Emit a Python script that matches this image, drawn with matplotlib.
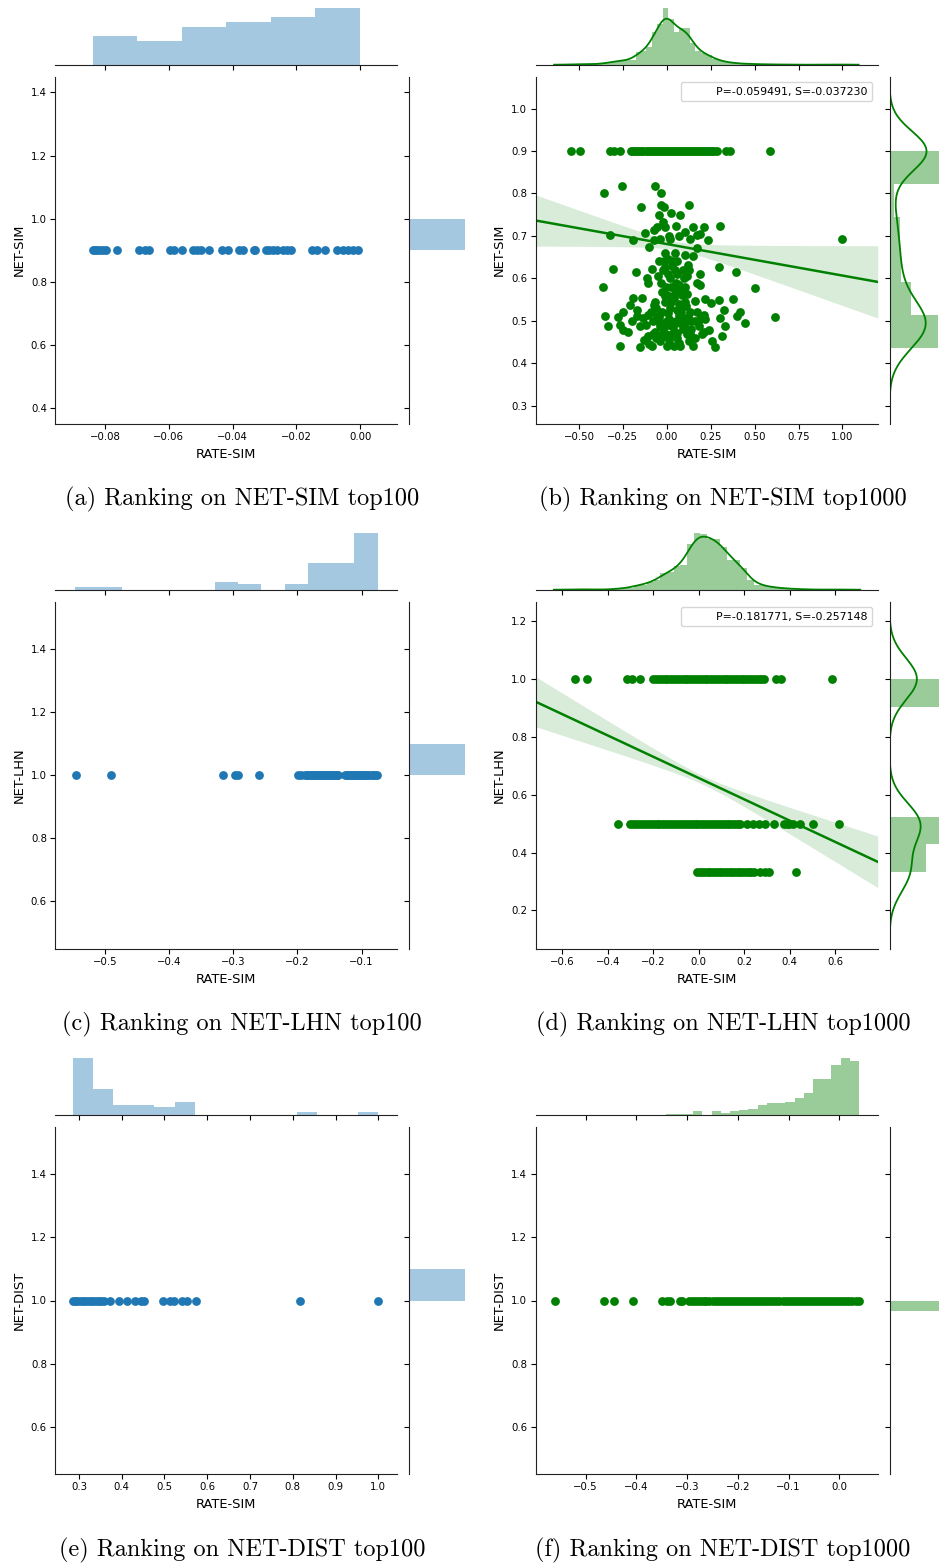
import numpy as np
import matplotlib.pyplot as plt
from matplotlib.lines import Line2D

BLUE = '#1f77b4'
GREEN = 'green'

# ---------------- data ----------------
# (a) NET-SIM top100 : all NET-SIM = 0.9
a_x = [-0.0839, -0.0831, -0.0824, -0.0816, -0.0807, -0.0797, -0.0764, -0.0695, -0.0675, -0.0661,
       -0.0596, -0.0584, -0.0559, -0.0525, -0.0513, -0.0500, -0.0473, -0.0433, -0.0414, -0.0379,
       -0.0367, -0.0333, -0.0329, -0.0296, -0.0285, -0.0273, -0.0262, -0.0241, -0.0231, -0.0218,
       -0.0152, -0.0135, -0.0111, -0.0074, -0.0053, -0.0038, -0.0022, -0.0006]
a_y = 0.9
a_xbins = (-0.0839, -0.0001)
a_xcounts = [12, 10, 16, 18, 20, 24]
a_ybins = (0.9, 1.0)
a_ycounts = [100]

# (b) NET-SIM top1000
b_row_x = [-0.548, -0.492, -0.323, -0.300, -0.266, -0.205, -0.192, -0.181, -0.168, -0.157,
           -0.146, -0.133, -0.121, -0.110, -0.098, -0.087, -0.075, -0.062, -0.051, -0.040,
           -0.028, -0.017, -0.005, 0.006, 0.018, 0.029, 0.041, 0.052, 0.064, 0.075,
           0.087, 0.098, 0.110, 0.121, 0.133, 0.144, 0.156, 0.167, 0.179, 0.190,
           0.202, 0.213, 0.225, 0.236, 0.248, 0.259, 0.271, 0.285, 0.338, 0.361, 0.586]
b_row_y = 0.9
b_cloud_x = [-0.357, -0.257, -0.067, -0.032, -0.148, -0.034, -0.015, 0.124, -0.042, 0.023,
             0.076, -0.023, -0.057, -0.076, -0.124, -0.010, 0.053, 0.101, 0.148, 0.209,
             0.300, 0.171, 0.190, 0.234, -0.323, -0.194, -0.099, -0.076, -0.038, 0.019,
             0.067, 0.133, 0.171, 0.101, 0.148, 0.004, -0.010, 0.029, 0.048, -0.086,
             0.120, 0.129, 0.295, 0.395, -0.304, -0.175, -0.365, -0.114, -0.105, -0.048,
             0.114, 0.190, 0.171, 0.190, 0.504, -0.004, 0.053, 0.105, 0.080, -0.029,
             -0.010, 0.038, 0.114, 0.219, 0.295, 0.376, -0.190, -0.143, -0.209, -0.251,
             -0.076, 0.076, 0.162, 0.253, 0.323, 0.414, -0.352, -0.281, -0.338, -0.171,
             -0.133, -0.057, 0.004, 0.067, 0.133, 0.209, 0.304, 0.399, -0.266, -0.219,
             -0.152, -0.080, -0.038, 0.038, 0.114, 0.181, 0.238, 0.333, 0.447, -0.247,
             -0.105, -0.019, 0.057, 0.133, 0.209, 0.314, -0.266, -0.152, -0.086, -0.038,
             0.010, 0.067, 0.124, 0.257, 0.276, 0.076, 0.000, 1.000, 0.614, -0.060,
             -0.030, 0.000, 0.020, 0.050, 0.080, 0.100, 0.120, -0.020, 0.030, 0.060,
             0.090, -0.050, -0.090, 0.140, 0.160, -0.120, -0.010, 0.040, 0.070, 0.110,
             -0.040, 0.010, 0.130, 0.170, -0.070, 0.000, 0.020, -0.020, 0.060, 0.030,
             -0.010, 0.090, -0.130, 0.190, 0.220, -0.170, -0.100, 0.150, 0.040, -0.200,
             -0.080, -0.060, -0.045, -0.025, -0.005, 0.015, 0.035, 0.055, 0.075, 0.095,
             0.115, 0.135, -0.110, -0.065, 0.025, 0.045, 0.085, 0.105, -0.035, 0.005,
             0.025, 0.070, 0.095, -0.015, 0.045, 0.010, 0.060, -0.045, 0.160, 0.200]
b_cloud_y = [0.801, 0.818, 0.818, 0.801, 0.768, 0.773, 0.769, 0.773, 0.750, 0.755,
             0.750, 0.732, 0.721, 0.715, 0.708, 0.721, 0.724, 0.709, 0.721, 0.721,
             0.724, 0.703, 0.705, 0.691, 0.703, 0.691, 0.673, 0.691, 0.693, 0.693,
             0.699, 0.693, 0.671, 0.656, 0.653, 0.645, 0.628, 0.630, 0.620, 0.622,
             0.632, 0.620, 0.626, 0.616, 0.622, 0.616, 0.581, 0.601, 0.589, 0.605,
             0.605, 0.611, 0.589, 0.585, 0.577, 0.581, 0.589, 0.581, 0.569, 0.569,
             0.558, 0.562, 0.564, 0.552, 0.550, 0.552, 0.554, 0.554, 0.538, 0.522,
             0.538, 0.538, 0.546, 0.542, 0.525, 0.522, 0.511, 0.509, 0.487, 0.511,
             0.507, 0.512, 0.518, 0.515, 0.522, 0.515, 0.507, 0.511, 0.491, 0.475,
             0.487, 0.499, 0.487, 0.495, 0.499, 0.487, 0.479, 0.487, 0.494, 0.479,
             0.464, 0.464, 0.471, 0.471, 0.475, 0.464, 0.442, 0.439, 0.440, 0.452,
             0.456, 0.448, 0.452, 0.452, 0.439, 0.440, 0.440, 0.692, 0.509, 0.530,
             0.520, 0.500, 0.530, 0.500, 0.520, 0.490, 0.510, 0.480, 0.470, 0.460,
             0.480, 0.500, 0.520, 0.480, 0.500, 0.490, 0.545, 0.555, 0.540, 0.535,
             0.465, 0.490, 0.455, 0.520, 0.475, 0.560, 0.600, 0.620, 0.610, 0.640,
             0.660, 0.620, 0.455, 0.505, 0.505, 0.525, 0.445, 0.440, 0.440, 0.500,
             0.470, 0.460, 0.510, 0.495, 0.470, 0.505, 0.485, 0.525, 0.495, 0.505,
             0.470, 0.500, 0.515, 0.545, 0.545, 0.575, 0.560, 0.545, 0.590, 0.610,
             0.580, 0.585, 0.600, 0.640, 0.660, 0.700, 0.640, 0.640, 0.460, 0.470]
b_xbins = (-0.55, 1.0)
b_xcounts = [2, 0, 2, 1, 1, 2, 4, 6, 8, 10,
             10, 12, 30, 32, 42, 76, 95, 134, 108, 78,
             86, 86, 50, 32, 28, 22, 14, 10, 6, 5,
             4, 2, 2, 2, 1, 1, 1, 0, 1, 0,
             0, 0, 0, 0, 0, 0, 0, 0, 0, 1]
b_yvals = [0.90, 0.82, 0.80, 0.77, 0.74, 0.72, 0.70, 0.68, 0.66, 0.64,
           0.62, 0.60, 0.58, 0.56, 0.54, 0.52, 0.50, 0.48, 0.46, 0.44]
b_ywts = [369, 5, 8, 15, 12, 16, 20, 18, 15, 20,
          22, 20, 22, 26, 35, 55, 130, 80, 60, 51]
b_fit = (0.681, -0.0742)          # intercept, slope
b_ci = (0.010, 0.074, 0.058)      # min half width, growth, centre
b_label = 'P=-0.059491, S=-0.037230'

# (c) NET-LHN top100 : all NET-LHN = 1.0
c_x = [-0.5457, -0.4912, -0.3156, -0.2970, -0.2930, -0.2595, -0.1997, -0.1945, -0.1883, -0.1857,
       -0.1831, -0.1805, -0.1779, -0.1753, -0.1727, -0.1701, -0.1675, -0.1649, -0.1623, -0.1597,
       -0.1571, -0.1545, -0.1519, -0.1493, -0.1468, -0.1442, -0.1416, -0.1390, -0.1364, -0.1260,
       -0.1234, -0.1208, -0.1182, -0.1156, -0.1130, -0.1104, -0.1078, -0.1052, -0.1026, -0.1000,
       -0.0974, -0.0948, -0.0922, -0.0896, -0.0860, -0.0829, -0.0792, -0.0756]
c_y = 1.0
c_xbins = (-0.5462, -0.0751)
c_xcounts = [2, 2, 0, 0, 0, 0, 6, 4, 0, 4, 20, 20, 42]
c_ybins = (1.0, 1.1)
c_ycounts = [100]

# (d) NET-LHN top1000
d_levels = [1.0, 0.5, 1 / 3]
d_x_top = [-0.544, -0.492, -0.316, -0.295, -0.258, -0.200, -0.188, -0.176, -0.163, -0.150,
           -0.138, -0.125, -0.112, -0.100, -0.087, -0.075, -0.062, -0.050, -0.037, -0.025,
           -0.012, 0.000, 0.013, 0.025, 0.038, 0.050, 0.063, 0.075, 0.088, 0.100,
           0.113, 0.125, 0.138, 0.150, 0.163, 0.175, 0.188, 0.200, 0.213, 0.225,
           0.238, 0.250, 0.263, 0.275, 0.288, 0.340, 0.361, 0.584]
d_x_mid = [-0.354, -0.303, -0.288, -0.275, -0.262, -0.250, -0.237, -0.224, -0.211, -0.198,
           -0.186, -0.173, -0.160, -0.147, -0.134, -0.122, -0.109, -0.096, -0.083, -0.070,
           -0.058, -0.045, -0.032, -0.019, -0.006, 0.006, 0.019, 0.032, 0.045, 0.058,
           0.070, 0.083, 0.096, 0.109, 0.122, 0.134, 0.147, 0.160, 0.172, 0.182,
           0.211, 0.240, 0.264, 0.292, 0.329, 0.373, 0.386, 0.397, 0.414, 0.446,
           0.502, 0.614]
d_x_low = [-0.009, 0.003, 0.015, 0.027, 0.039, 0.051, 0.063, 0.075, 0.087, 0.099,
           0.111, 0.123, 0.135, 0.147, 0.159, 0.171, 0.183, 0.195, 0.207, 0.219,
           0.230, 0.241, 0.270, 0.290, 0.308, 0.425]
d_xbins = (-0.55, 0.622)
d_xcounts = [2, 0, 2, 0, 0, 1, 3, 4, 6, 14,
             15, 22, 28, 50, 52, 70, 72, 136, 169, 165,
             151, 150, 127, 88, 88, 63, 28, 15, 13, 8,
             6, 4, 3, 2, 1, 1, 0, 0, 1, 1]
d_yvals = [1.0, 0.5, 1 / 3]
d_ywts = [360, 390, 250]
d_fit = (0.6575, -0.368)
d_ci = (0.015, 0.115, 0.022)
d_label = 'P=-0.181771, S=-0.257148'

# (e) NET-DIST top100 : all NET-DIST = 1.0
e_x = [0.2852, 0.2906, 0.2961, 0.3023, 0.3086, 0.3148, 0.3210, 0.3273, 0.3335, 0.3398,
       0.3460, 0.3522, 0.3585, 0.3725, 0.3935, 0.4130, 0.4310, 0.4440, 0.4520, 0.4970,
       0.5140, 0.5220, 0.5420, 0.5520, 0.5730, 0.8170, 1.0000]
e_y = 1.0
e_xbins = (0.2852, 1.0)
e_xcounts = [44, 20, 8, 8, 6, 10, 0, 0, 0, 0, 0, 2, 0, 0, 2]
e_ybins = (1.0, 1.1)
e_ycounts = [100]

# (f) NET-DIST top1000
f_x = [-0.5605, -0.4638, -0.4441, -0.4072, -0.350, -0.339, -0.334, -0.314, -0.311, -0.297,
       -0.291, -0.285, -0.279, -0.273, -0.267, -0.262, -0.256, -0.250, -0.244, -0.238,
       -0.232, -0.226, -0.220, -0.214, -0.208, -0.202, -0.196, -0.190, -0.184, -0.178,
       -0.172, -0.166, -0.160, -0.154, -0.148, -0.142, -0.136, -0.130, -0.124, -0.118,
       -0.112, -0.106, -0.100, -0.094, -0.088, -0.082, -0.076, -0.070, -0.064, -0.058,
       -0.052, -0.046, -0.040, -0.034, -0.028, -0.022, -0.016, -0.010, -0.004, 0.002,
       0.008, 0.014, 0.020, 0.026, 0.032, 0.038]
f_y = 1.0
f_xbins = (-0.5605, 0.0388)
f_xcounts = [1, 0, 0, 0, 0, 1, 1, 0, 1, 0,
             0, 1, 3, 3, 3, 10, 0, 10, 5, 8,
             12, 14, 23, 26, 26, 30, 37, 50, 80, 80,
             111, 127, 120]
f_ybins = (0.9667, 1.0)
f_ycounts = [1000]

captions = ['(a) Ranking on NET-SIM top100', '(b) Ranking on NET-SIM top1000',
            '(c) Ranking on NET-LHN top100', '(d) Ranking on NET-LHN top1000',
            '(e) Ranking on NET-DIST top100', '(f) Ranking on NET-DIST top1000']

# ---------------- style / layout ----------------
plt.rcParams['font.family'] = 'DejaVu Sans'
plt.rcParams['xtick.labelsize'] = 7.3
plt.rcParams['ytick.labelsize'] = 7.3
plt.rcParams['axes.labelsize'] = 9.4
plt.rcParams['xtick.major.pad'] = 2.5
plt.rcParams['ytick.major.pad'] = 2.5
plt.rcParams['axes.edgecolor'] = '#222222'

W, H = 939, 1566
fig = plt.figure(figsize=(W / 100, H / 100), dpi=100)

COL_X = [55.3, 535.7]
ROW_Y = [76.7, 601.7, 1127.0]
MAIN_W, MAIN_H = 342.0, 347.0
MARG_W, MARG_H = 59.0, 59.8
GAP_W, GAP_H = 11.8, 12.0


def add_px(x0, y0, w, h, **kw):
    return fig.add_axes([x0 / W, 1 - (y0 + h) / H, w / W, h / H], **kw)


def make_axes(col, row):
    x0, y0 = COL_X[col], ROW_Y[row]
    main = add_px(x0, y0, MAIN_W, MAIN_H)
    top = add_px(x0, y0 - GAP_H - MARG_H, MAIN_W, MARG_H, sharex=main)
    side = add_px(x0 + MAIN_W + GAP_W, y0, MARG_W, MAIN_H, sharey=main)
    for s in ['top', 'right']:
        main.spines[s].set_visible(False)
    for s in ['top', 'left', 'right']:
        top.spines[s].set_visible(False)
    for s in ['top', 'right', 'bottom']:
        side.spines[s].set_visible(False)
    top.tick_params(axis='x', labelbottom=False)
    top.yaxis.set_visible(False)
    side.tick_params(axis='y', labelleft=False)
    side.xaxis.set_visible(False)
    for ax in (main, top, side):
        ax.patch.set_visible(False)
    return main, top, side


def hist_bars(ax, lo, hi, counts, color, density, horizontal=False):
    counts = np.asarray(counts, float)
    edges = np.linspace(lo, hi, len(counts) + 1)
    width = np.diff(edges)
    h = counts / (counts.sum() * width) if density else counts
    if horizontal:
        ax.barh(edges[:-1], h, height=width, align='edge', color=color, alpha=0.4, linewidth=0)
    else:
        ax.bar(edges[:-1], h, width=width, align='edge', color=color, alpha=0.4, linewidth=0)
    return edges


def kde(vals, wts, bw, n=300):
    vals = np.asarray(vals, float)
    wts = np.asarray(wts, float)
    grid = np.linspace(vals.min() - 3 * bw, vals.max() + 3 * bw, n)
    z = (grid[:, None] - vals[None, :]) / bw
    dens = (wts * np.exp(-0.5 * z ** 2)).sum(1) / (wts.sum() * bw * np.sqrt(2 * np.pi))
    return grid, dens


def reg_line(ax, fit, ci, xlim, color):
    xx = np.linspace(xlim[0], xlim[1], 200)
    yy = fit[0] + fit[1] * xx
    half = np.sqrt(ci[0] ** 2 + (ci[1] * (xx - ci[2])) ** 2)
    ax.fill_between(xx, yy - half, yy + half, color=color, alpha=0.15, linewidth=0)
    ax.plot(xx, yy, color=color, lw=1.8)


def stat_legend(ax, text):
    h = Line2D([], [], linestyle='none')
    ax.legend([h], [text], loc='upper right', fontsize=7.9, handlelength=2.0)


def finish(main, xlim, ylim, xticks, yticks, ylabel):
    main.set_xlim(xlim)
    main.set_ylim(ylim)
    main.set_xticks(xticks)
    main.set_yticks(yticks)
    main.set_xlabel('RATE-SIM')
    main.set_ylabel(ylabel)


MS = 40

# (a)
m, t, s = make_axes(0, 0)
m.scatter(a_x, [a_y] * len(a_x), s=MS, color=BLUE, linewidths=0)
hist_bars(t, *a_xbins, a_xcounts, BLUE, False)
hist_bars(s, *a_ybins, a_ycounts, BLUE, False, horizontal=True)
finish(m, (-0.0956, 0.0116), (0.35, 1.45), [-0.08, -0.06, -0.04, -0.02, 0.0],
       [0.4, 0.6, 0.8, 1.0, 1.2, 1.4], 'NET-SIM')

# (b)
m, t, s = make_axes(1, 0)
b_xlim = (-0.747, 1.201)
m.scatter(b_row_x, [b_row_y] * len(b_row_x), s=MS, color=GREEN, linewidths=0)
m.scatter(b_cloud_x, b_cloud_y, s=MS, color=GREEN, linewidths=0)
reg_line(m, b_fit, b_ci, b_xlim, GREEN)
stat_legend(m, b_label)
edges = hist_bars(t, *b_xbins, b_xcounts, GREEN, True)
gx, gd = kde(edges[:-1] + np.diff(edges) / 2, b_xcounts, 0.036)
t.plot(gx, gd, color=GREEN, lw=1.3)
yc, ye = np.histogram(b_yvals, bins=6, range=(0.437, 0.9), weights=b_ywts)
hist_bars(s, ye[0], ye[-1], yc, GREEN, True, horizontal=True)
gy, gd = kde(b_yvals, b_ywts, 0.047)
s.plot(gd, gy, color=GREEN, lw=1.3)
finish(m, b_xlim, (0.258, 1.075), [-0.5, -0.25, 0.0, 0.25, 0.5, 0.75, 1.0],
       [0.3, 0.4, 0.5, 0.6, 0.7, 0.8, 0.9, 1.0], 'NET-SIM')

# (c)
m, t, s = make_axes(0, 1)
m.scatter(c_x, [c_y] * len(c_x), s=MS, color=BLUE, linewidths=0)
hist_bars(t, *c_xbins, c_xcounts, BLUE, False)
hist_bars(s, *c_ybins, c_ycounts, BLUE, False, horizontal=True)
finish(m, (-0.5774, -0.0444), (0.45, 1.55), [-0.5, -0.4, -0.3, -0.2, -0.1],
       [0.6, 0.8, 1.0, 1.2, 1.4], 'NET-LHN')

# (d)
m, t, s = make_axes(1, 1)
d_xlim = (-0.717, 0.786)
for lvl, xs in zip(d_levels, [d_x_top, d_x_mid, d_x_low]):
    m.scatter(xs, [lvl] * len(xs), s=MS, color=GREEN, linewidths=0)
reg_line(m, d_fit, d_ci, d_xlim, GREEN)
stat_legend(m, d_label)
edges = hist_bars(t, *d_xbins, d_xcounts, GREEN, True)
gx, gd = kde(edges[:-1] + np.diff(edges) / 2, d_xcounts, 0.034)
t.plot(gx, gd, color=GREEN, lw=1.3)
yc, ye = np.histogram(d_yvals, bins=7, range=(1 / 3, 1.0), weights=d_ywts)
hist_bars(s, ye[0], ye[-1], yc, GREEN, True, horizontal=True)
gy, gd = kde(d_yvals, d_ywts, 0.072)
s.plot(gd, gy, color=GREEN, lw=1.3)
finish(m, d_xlim, (0.068, 1.267), [-0.6, -0.4, -0.2, 0.0, 0.2, 0.4, 0.6],
       [0.2, 0.4, 0.6, 0.8, 1.0, 1.2], 'NET-LHN')

# (e)
m, t, s = make_axes(0, 2)
m.scatter(e_x, [e_y] * len(e_x), s=MS, color=BLUE, linewidths=0)
hist_bars(t, *e_xbins, e_xcounts, BLUE, False)
hist_bars(s, *e_ybins, e_ycounts, BLUE, False, horizontal=True)
finish(m, (0.2447, 1.0444), (0.45, 1.55), [0.3, 0.4, 0.5, 0.6, 0.7, 0.8, 0.9, 1.0],
       [0.6, 0.8, 1.0, 1.2, 1.4], 'NET-DIST')

# (f)
m, t, s = make_axes(1, 2)
m.scatter(f_x, [f_y] * len(f_x), s=MS, color=GREEN, linewidths=0)
hist_bars(t, *f_xbins, f_xcounts, GREEN, True)
hist_bars(s, *f_ybins, f_ycounts, GREEN, True, horizontal=True)
finish(m, (-0.5987, 0.0757), (0.45, 1.55), [-0.5, -0.4, -0.3, -0.2, -0.1, 0.0],
       [0.6, 0.8, 1.0, 1.2, 1.4], 'NET-DIST')

# captions
cap_x = [242, 723]
cap_y = [499, 1024, 1550]
for i, text in enumerate(captions):
    fig.text(cap_x[i % 2] / W, 1 - cap_y[i // 2] / H, text, ha='center', va='center',
             fontsize=17.5, family='cmr10')

fig.savefig('out.png', dpi=100)
